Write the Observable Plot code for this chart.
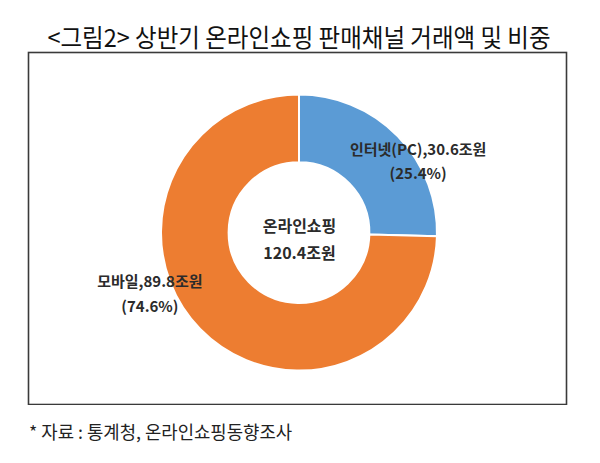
<!DOCTYPE html>
<html>
<head>
<meta charset="utf-8">
<script src="https://cdn.jsdelivr.net/npm/d3@7"></script>
<script src="https://cdn.jsdelivr.net/npm/@observablehq/plot@0.6"></script>
<style>
  html, body { margin: 0; padding: 0; background: #fff; width: 600px; height: 463px; overflow: hidden; }
  body { position: relative; font-family: "Noto Sans CJK KR", "Noto Sans", sans-serif; }
  #title { position: absolute; left: 0; top: 20px; width: 598px; text-align: center; font-size: 23.5px; line-height: 32px; color: #111; white-space: nowrap; transform: scaleY(1.05); }
  #chart { position: absolute; left: 0; top: 51px; }
  #caption { position: absolute; left: 29px; top: 418px; font-size: 17.8px; line-height: 26px; color: #222; white-space: nowrap; }
</style>
</head>
<body>
<div id="title">&lt;그림2&gt; 상반기 온라인쇼핑 판매채널 거래액 및 비중</div>
<div id="chart"></div>
<div id="caption">* 자료 : 통계청, 온라인쇼핑동향조사</div>
<script>
// ---- data ----
const channels = ["인터넷(PC)", "모바일"];
const amounts = [30.6, 89.8];          // 조원
const shares = [25.4, 74.6];           // %
const totalName = "온라인쇼핑";
const totalAmount = 120.4;             // 조원
const unit = "조원";

// ---- style / layout ----
const colors = ["#5B9BD5", "#ED7D31"];
const innerRatio = 0.51;
const labelNudge = [[44, -1], [-75, -14]];   // px offsets of slice labels from centroid
const font = "'Noto Sans CJK KR', 'Noto Sans', sans-serif";

const rows = channels.map((c, i) => ({channel: c, amount: amounts[i], share: shares[i]}));
const arcs = d3.pie().sort(null).value(d => d.amount)(rows);
const midR = (innerRatio + 1) / 2;
const centroid = a => {
  const ang = (a.startAngle + a.endAngle) / 2;
  return {x: midR * Math.sin(ang), y: midR * Math.cos(ang)};
};

function donut(index, scales) {
  const cx = scales.x(0), cy = scales.y(0);
  const r = scales.x(1) - scales.x(0);
  const color = scales.color || (c => colors[channels.indexOf(c)]);
  const arc = d3.arc().innerRadius(r * innerRatio).outerRadius(r);
  const g = d3.create("svg:g").attr("transform", `translate(${cx},${cy})`);
  g.selectAll("path").data(arcs).join("path")
    .attr("d", arc)
    .attr("fill", d => color(d.data.channel))
    .attr("stroke", "#fff")
    .attr("stroke-width", 2);
  return g.node();
}

const sliceLabels = arcs.map((a, i) => Plot.text([a], {
  x: d => centroid(d).x,
  y: d => centroid(d).y,
  text: d => `${d.data.channel},${d.data.amount}${unit}\n(${d.data.share}%)`,
  dx: labelNudge[i][0], dy: labelNudge[i][1],
  fontSize: 15, fontWeight: "bold", fill: "#2b2b2b", lineHeight: 1.62
}));

const chart = Plot.plot({
  width: 600, height: 354,
  marginLeft: 28, marginRight: 34, marginTop: 1, marginBottom: 1,
  x: {domain: [-271 / 138, 267 / 138], axis: null},
  y: {domain: [-(353 - 181.6) / 138, (181.6 - 1) / 138], axis: null},
  color: {domain: channels, range: colors},
  style: {fontFamily: font, background: "#fff"},
  marks: [
    Plot.frame({stroke: "#3a3a3a", strokeWidth: 1.6}),
    Plot.dot(rows, {x: 0, y: 0, fill: "channel", r: 0}),
    donut,
    ...sliceLabels,
    Plot.text([{name: totalName, amount: totalAmount}], {
      x: 0, y: 0, dy: 4,
      text: d => `${d.name}\n${d.amount}${unit}`,
      fontSize: 16, fontWeight: "bold", fill: "#2b2b2b", lineHeight: 1.7
    })
  ]
});
document.getElementById("chart").appendChild(chart);
</script>
</body>
</html>
